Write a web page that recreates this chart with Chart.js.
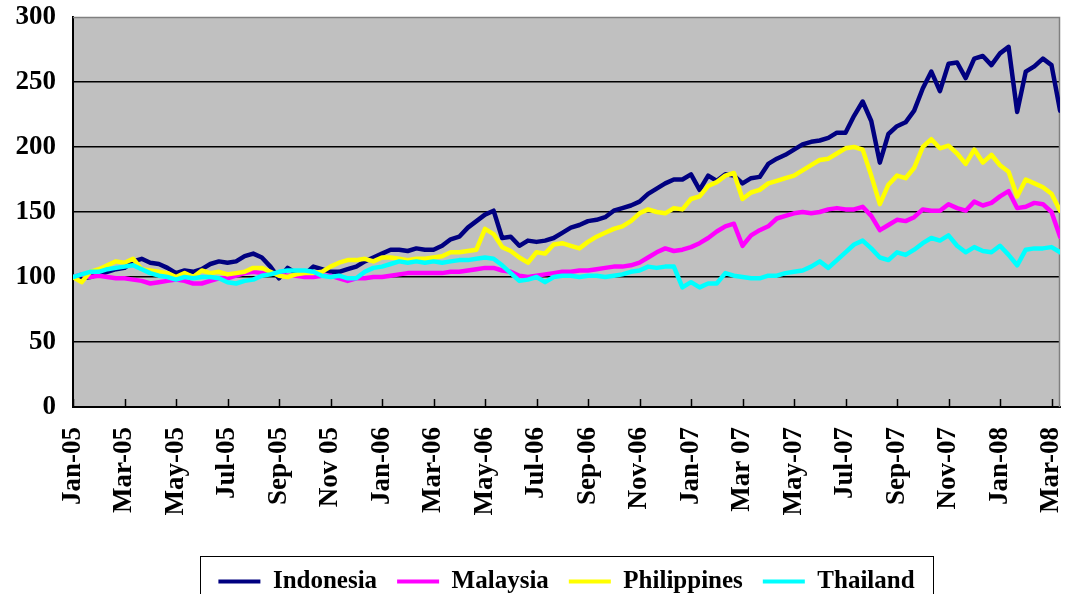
<!DOCTYPE html>
<html><head><meta charset="utf-8">
<script src="https://cdn.jsdelivr.net/npm/chart.js@4.4.1/dist/chart.umd.min.js"></script>
<style>html,body{margin:0;padding:0;background:#fff;overflow:hidden}#wrap{width:1065px;height:594px;position:relative}</style>
</head><body><div id="wrap"><canvas id="c" width="1065" height="594"></canvas></div>
<script>
// Tick labels, one every two months starting Jan-05
const tickLabels = ["Jan-05","Mar-05","May-05","Jul-05","Sep-05","Nov 05","Jan-06","Mar-06","May-06","Jul-06","Sep-06","Nov-06","Jan-07","Mar 07","May-07","Jul-07","Sep-07","Nov-07","Jan-08","Mar-08"];
// Observations roughly every third of a month from Jan 2005 (index 0) to late Mar 2008
const obsPerMonth = 3;
const indonesia = [100,99,100,102,104,106,107,112,114,111, 110,107,103,105,104,106,110,112,111,112, 116,118,115,108,99,107,103,102,108,106, 104,104,106,108,112,115,118,121,121,120, 122,121,121,124,129,131,138,143,148,151, 130,131,124,128,127,128,130,134,138,140, 143,144,146,151,153,155,158,164,168,172, 175,175,179,167,178,174,179,178,172,176, 177,187,191,194,198,202,204,205,207,211, 211,224,235,220,188,210,216,219,228,245, 258,243,264,265,253,268,270,263,272,277, 227,258,262,268,263,228];
const malaysia = [100,102,100,101,100,99,99,98,97,95, 96,97,98,97,95,95,97,99,99,101, 103,104,103,103,102,101,101,100,100,101, 101,99,97,99,99,100,100,101,102,103, 103,103,103,103,104,104,105,106,107,107, 105,104,101,100,101,102,103,104,104,105, 105,106,107,108,108,109,111,115,119,122, 120,121,123,126,130,135,139,141,124,132, 136,139,145,147,149,150,149,150,152,153, 152,152,154,147,136,140,144,143,146,152, 151,151,156,153,151,158,155,157,162,166, 153,154,157,156,150,131];
const philippines = [100,96,104,106,109,112,111,114,106,105, 104,103,100,103,100,105,103,104,102,103, 104,107,107,104,101,100,102,103,103,104, 108,111,113,113,114,112,115,115,114,113, 114,114,115,116,119,119,120,121,137,133, 123,120,115,111,119,118,125,126,124,122, 127,131,134,137,139,143,149,152,150,149, 153,152,160,162,170,173,178,180,160,165, 167,172,174,176,178,182,186,190,191,195, 199,200,198,178,156,171,178,176,184,200, 206,199,201,195,187,198,188,194,186,181, 162,175,172,169,164,151];
const thailand = [100,102,104,104,106,107,108,109,106,103, 101,100,98,100,99,100,100,99,96,95, 97,98,101,102,104,105,105,105,104,101, 100,101,99,99,104,107,108,110,112,111, 112,111,112,111,112,113,113,114,115,114, 109,103,97,98,100,96,100,101,101,100, 101,101,100,101,102,104,105,108,107,108, 108,92,96,92,95,95,103,101,100,99, 99,101,101,103,104,105,108,112,107,113, 119,125,128,122,115,113,119,117,121,126, 130,128,132,124,119,123,120,119,124,117, 109,121,122,122,123,119];
const seriesNames = ["Indonesia","Malaysia","Philippines","Thailand"];

const toPoints = arr => arr.map((v, i) => ({x: i / obsPerMonth, y: v}));
const FONT = "'Liberation Serif', 'Times New Roman', serif";

const decor = {
  id: 'decor',
  beforeDraw(chart) {
    const {ctx, chartArea: a} = chart;
    ctx.save();
    ctx.fillStyle = '#C0C0C0';
    ctx.fillRect(a.left, a.top, a.right - a.left, a.bottom - a.top);
    ctx.restore();
  },
  beforeDatasetsDraw(chart) {
    const {ctx, chartArea: a} = chart;
    const xs = chart.scales.x;
    ctx.save();
    ctx.strokeStyle = '#808080';
    ctx.lineWidth = 1.5;
    ctx.beginPath();
    ctx.moveTo(a.left, a.top + 0.5);
    ctx.lineTo(a.right - 0.5, a.top + 0.5);
    ctx.lineTo(a.right - 0.5, a.bottom);
    ctx.stroke();
    ctx.strokeStyle = '#000';
    ctx.lineWidth = 1.5;
    ctx.beginPath();
    xs.ticks.forEach(t => {
      const px = Math.round(xs.getPixelForValue(t.value)) + 0.5;
      ctx.moveTo(px, a.bottom);
      ctx.lineTo(px, a.bottom - 8);
    });
    ctx.stroke();
    ctx.restore();
  },
  afterDraw(chart) {
    const lg = chart.legend;
    if (!lg || !lg.legendHitBoxes || !lg.legendHitBoxes.length) return;
    const hb = lg.legendHitBoxes;
    const first = hb[0], last = hb[hb.length - 1];
    const left = Math.round(first.left - 18) + 0.5;
    const right = Math.round(last.left + last.width + 18) + 0.5;
    const top = Math.round(first.top - 13) + 0.5;
    const ctx = chart.ctx;
    ctx.save();
    ctx.strokeStyle = '#000';
    ctx.lineWidth = 1;
    ctx.strokeRect(left, top, right - left, 80);
    ctx.restore();
  }
};

new Chart(document.getElementById('c'), {
  type: 'line',
  data: {
    datasets: [
      {label: seriesNames[0], data: toPoints(indonesia), borderColor: '#000080', backgroundColor: '#000080', order: 3},
      {label: seriesNames[1], data: toPoints(malaysia), borderColor: '#FF00FF', backgroundColor: '#FF00FF', order: 2},
      {label: seriesNames[2], data: toPoints(philippines), borderColor: '#FFFF00', backgroundColor: '#FFFF00', order: 1},
      {label: seriesNames[3], data: toPoints(thailand), borderColor: '#00FFFF', backgroundColor: '#00FFFF', order: 0}
    ]
  },
  options: {
    responsive: false,
    animation: false,
    devicePixelRatio: 1,
    layout: {padding: {top: 17, right: 5, bottom: -10, left: 0}},
    elements: {
      line: {borderWidth: 4.5, tension: 0, borderJoinStyle: 'round', borderCapStyle: 'round'},
      point: {radius: 0, hoverRadius: 0}
    },
    plugins: {
      tooltip: {enabled: false},
      legend: {
        position: 'bottom',
        fullSize: false,
        labels: {
          boxWidth: 42,
          boxHeight: 4,
          padding: 20,
          color: '#000',
          font: {family: FONT, size: 25, weight: 'bold'},
          generateLabels(chart) {
            const items = Chart.defaults.plugins.legend.labels.generateLabels(chart);
            items.forEach(it => { it.lineWidth = 0; });
            return items.sort((a, b) => a.datasetIndex - b.datasetIndex);
          }
        }
      }
    },
    scales: {
      x: {
        type: 'linear',
        min: 0,
        max: 38.33,
        afterFit(scale) { scale.height = 142; scale.paddingLeft = 0; scale.paddingRight = 0; },
        grid: {display: false, drawTicks: false},
        border: {display: true, color: '#000', width: 2},
        ticks: {
          stepSize: 2,
          includeBounds: false,
          autoSkip: false,
          minRotation: 90,
          maxRotation: 90,
          padding: 20,
          color: '#000',
          font: {family: FONT, size: 27, weight: 'bold'},
          callback: v => tickLabels[Math.round(v / 2)] || ''
        }
      },
      y: {
        min: 0,
        max: 300,
        afterFit(scale) { scale.width = 73; scale.paddingTop = 0; scale.paddingBottom = 0; },
        grid: {
          drawTicks: false,
          color: ctx => (ctx.tick && ctx.tick.value === 300) ? 'rgba(0,0,0,0)' : '#000',
          lineWidth: 1.5
        },
        border: {display: true, color: '#000', width: 2},
        ticks: {
          stepSize: 50,
          padding: 17,
          color: '#000',
          font: {family: FONT, size: 27, weight: 'bold'}
        }
      }
    }
  },
  plugins: [decor]
});
</script></body></html>
